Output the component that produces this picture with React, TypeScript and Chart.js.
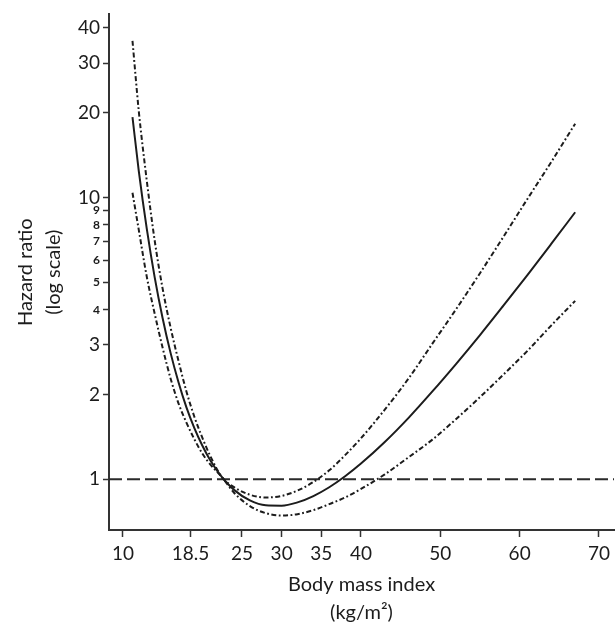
import React, { useEffect, useRef } from "react";
import { Chart, registerables } from "chart.js";

Chart.register(...registerables);

// Body mass index (kg/m2) sample positions
const BMI = [11.2, 12, 13, 14, 15, 16, 17, 18, 19, 20, 21, 22.5, 24, 26, 28, 30, 32, 34, 36, 38, 40, 43, 46, 49, 52, 55, 58, 61, 64, 67];
// Hazard ratio estimate
const HR = [19.3, 12.4, 7.76, 5.21, 3.73, 2.81, 2.21, 1.8, 1.52, 1.318, 1.169, 1.015, 0.917, 0.841, 0.808, 0.806, 0.828, 0.872, 0.937, 1.025, 1.137, 1.356, 1.652, 2.05, 2.57, 3.25, 4.15, 5.32, 6.86, 8.87];
// Upper 95% confidence limit
const HR_UPPER = [36.0, 20.2, 11.5, 7.03, 4.75, 3.46, 2.63, 2.05, 1.667, 1.405, 1.21, 1.015, 0.938, 0.881, 0.862, 0.873, 0.912, 0.978, 1.076, 1.218, 1.398, 1.767, 2.28, 3.03, 4.02, 5.39, 7.29, 9.91, 13.4, 18.3];
// Lower 95% confidence limit
const HR_LOWER = [10.4, 7.66, 5.24, 3.87, 2.93, 2.28, 1.86, 1.59, 1.387, 1.235, 1.129, 1.015, 0.896, 0.803, 0.758, 0.743, 0.752, 0.777, 0.816, 0.862, 0.924, 1.041, 1.197, 1.383, 1.637, 1.957, 2.36, 2.86, 3.52, 4.3];

const REFERENCE_HR = 1;
const X_TICKS = [10, 18.5, 25, 30, 35, 40, 50, 60, 70];
const Y_TICKS = [1, 2, 3, 4, 5, 6, 7, 8, 9, 10, 20, 30, 40];
const Y_SMALL_TICKS = [4, 5, 6, 7, 8, 9];
const X_MIN = 8.24;
const X_MAX = 71.9;
const Y_MIN = 0.6606;
const Y_MAX = 44.7;

const FONT = "Lato, 'Open Sans', 'Noto Sans', sans-serif";
const INK = "#1c1c1c";

export default function App() {
  const ref = useRef<HTMLCanvasElement | null>(null);

  useEffect(() => {
    document.body.style.margin = "0";
    const canvas = ref.current;
    if (!canvas) return;

    const toPts = (ys: number[]) => BMI.map((x, i) => ({ x, y: ys[i] }));

    const chart = new Chart(canvas, {
      type: "line",
      data: {
        datasets: [
          {
            label: "Hazard ratio",
            data: toPts(HR),
            borderColor: INK,
            borderWidth: 2,
            pointRadius: 0,
            cubicInterpolationMode: "monotone",
            fill: false,
          },
          {
            label: "Upper limit",
            data: toPts(HR_UPPER),
            borderColor: INK,
            borderWidth: 2,
            borderDash: [5, 2.5, 1.8, 2.5],
            pointRadius: 0,
            cubicInterpolationMode: "monotone",
            fill: false,
          },
          {
            label: "Lower limit",
            data: toPts(HR_LOWER),
            borderColor: INK,
            borderWidth: 2,
            borderDash: [5, 2.5, 1.8, 2.5],
            pointRadius: 0,
            cubicInterpolationMode: "monotone",
            fill: false,
          },
          {
            label: "Reference",
            data: [
              { x: X_MIN, y: REFERENCE_HR },
              { x: X_MAX, y: REFERENCE_HR },
            ],
            borderColor: "#2a2a2a",
            borderWidth: 2,
            borderDash: [13, 5],
            pointRadius: 0,
            tension: 0,
            fill: false,
          },
        ],
      },
      options: {
        animation: false,
        responsive: false,
        devicePixelRatio: 1,
        layout: { padding: { top: 12, left: 0, right: 0, bottom: 0 } },
        plugins: { legend: { display: false }, tooltip: { enabled: false } },
        scales: {
          x: {
            type: "linear",
            min: X_MIN,
            max: X_MAX,
            afterBuildTicks: (scale: any) => {
              scale.ticks = X_TICKS.map((v) => ({ value: v }));
            },
            afterFit: (scale: any) => {
              scale.height = 97;
            },
            ticks: {
              autoSkip: false,
              maxRotation: 0,
              color: INK,
              padding: 5,
              font: { family: FONT, size: 19 },
              callback: (v: any) => String(v),
            },
            grid: {
              display: true,
              drawOnChartArea: false,
              drawTicks: true,
              tickLength: 7,
              tickWidth: 1.5,
              tickColor: "#333",
            },
            border: { display: true, color: "#333", width: 2 },
            title: {
              display: true,
              text: ["Body mass index", "(kg/m²)"],
              color: INK,
              font: { family: FONT, size: 20, lineHeight: 1.4 },
              padding: { top: 0, bottom: 0 },
            },
          },
          y: {
            type: "logarithmic",
            min: Y_MIN,
            max: Y_MAX,
            afterBuildTicks: (scale: any) => {
              scale.ticks = Y_TICKS.map((v) => ({ value: v }));
            },
            afterFit: (scale: any) => {
              scale.width = 109;
            },
            ticks: {
              autoSkip: false,
              color: INK,
              padding: 3,
              font: (ctx: any) => {
                const v = ctx.tick ? ctx.tick.value : 10;
                return Y_SMALL_TICKS.includes(v)
                  ? { family: FONT, size: 12, weight: "bold" }
                  : { family: FONT, size: 19 };
              },
              callback: (v: any) => String(v),
            },
            grid: {
              display: true,
              drawOnChartArea: false,
              drawTicks: true,
              tickLength: 6,
              tickWidth: 1.5,
              tickColor: "#333",
            },
            border: { display: true, color: "#333", width: 2 },
            title: {
              display: true,
              text: ["Hazard ratio", "(log scale)"],
              color: INK,
              font: { family: FONT, size: 20, lineHeight: 1.4 },
              padding: { top: 12, bottom: 0 },
            },
          },
        },
      },
    });

    return () => chart.destroy();
  }, []);

  return (
    <div style={{ width: 615, height: 627 }}>
      <canvas ref={ref} width={615} height={627} style={{ display: "block" }} />
    </div>
  );
}
